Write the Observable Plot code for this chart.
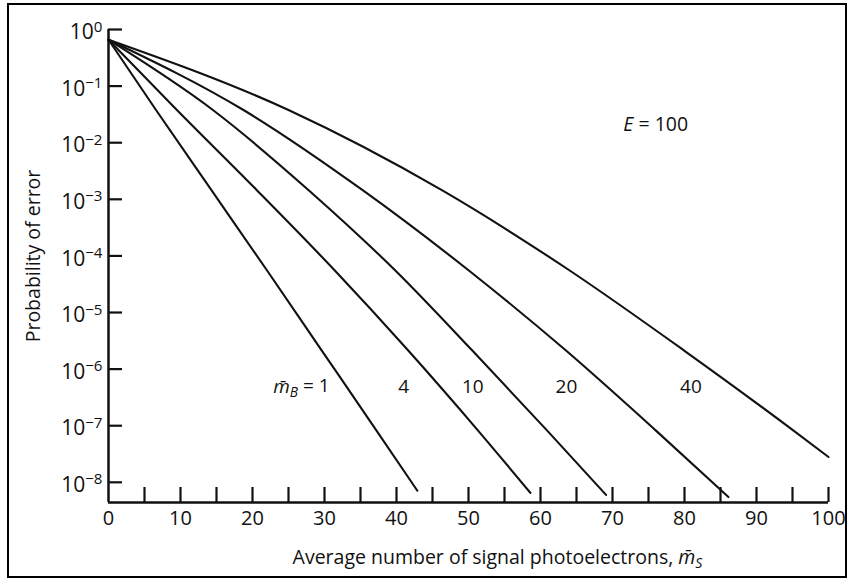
<!DOCTYPE html>
<html><head><meta charset="utf-8">
<script src="https://cdn.jsdelivr.net/npm/d3@7"></script>
<script src="https://cdn.jsdelivr.net/npm/@observablehq/plot@0.6"></script>
<style>
body{margin:0;background:#fff;}
#wrap{position:relative;width:848px;height:581px;overflow:hidden;}
#border{position:absolute;left:7px;top:3px;width:840px;height:575px;border:2px solid #000;box-sizing:border-box;pointer-events:none;}
</style></head><body>
<div id="wrap"><div id="chart"></div><div id="border"></div></div>
<script>
// Background photoelectron counts (series)
const seriesMB = [1, 4, 10, 20, 40];
// Average number of signal photoelectrons, per series
const mS_B1  = [0, 6.6, 14.3, 22.0, 29.6, 37.2, 42.9];
const mS_B4  = [0, 9.5, 20.6, 31.4, 41.6, 51.3, 58.6];
const mS_B10 = [0, 14.5, 27.8, 39.8, 50.5, 60.9, 69.1];
const mS_B20 = [0, 18.75, 35.3, 50.0, 63.5, 76.0, 86.1];
const mS_B40 = [0, 25.0, 46.3, 64.0, 79.9, 95.1, 100];
// Probability of error, per series
const pe_B1  = [0.66, 0.0378, 1.45e-3, 5.58e-5, 2.15e-6, 8.28e-8, 7.1e-9];
const pe_B4  = [0.66, 0.0378, 1.45e-3, 5.58e-5, 2.15e-6, 8.28e-8, 6.5e-9];
const pe_B10 = [0.66, 0.0378, 1.45e-3, 5.58e-5, 2.15e-6, 8.28e-8, 6.0e-9];
const pe_B20 = [0.66, 0.0378, 1.45e-3, 5.58e-5, 2.15e-6, 8.28e-8, 5.5e-9];
const pe_B40 = [0.66, 0.0378, 1.45e-3, 5.58e-5, 2.15e-6, 8.28e-8, 2.8e-8];

// Axis ticks
const yTicks = [1, 1e-1, 1e-2, 1e-3, 1e-4, 1e-5, 1e-6, 1e-7, 1e-8];
const xTickLabels = [0, 10, 20, 30, 40, 50, 60, 70, 80, 90, 100];
const xTickMarks = [5, 10, 15, 20, 25, 30, 35, 40, 45, 50, 55, 60, 65, 70, 75, 80, 85, 90, 95, 100];
const yDomain = [4.4e-9, 1];
const xDomain = [0, 100];

// Curve labels
const annoText = ["m̄_B = 1", "4", "10", "20", "40"];
const annoX = [26.8, 41.0, 50.6, 63.6, 80.9];
const annoY = [4.8e-7, 4.8e-7, 4.8e-7, 4.8e-7, 4.8e-7];
const eText = ["E = 100"];
const eX = [76];
const eY = [0.0205];

const xTitle = "Average number of signal photoelectrons, m̄_S";
const yTitle = "Probability of error";

const xsAll = [mS_B1, mS_B4, mS_B10, mS_B20, mS_B40];
const ysAll = [pe_B1, pe_B4, pe_B10, pe_B20, pe_B40];
const rows = [];
seriesMB.forEach((mb, i) => xsAll[i].forEach((x, j) => rows.push({mB: mb, mS: x, pe: ysAll[i][j]})));
const anno = annoText.map((t, i) => ({t, x: annoX[i], y: annoY[i]}));
const eAnno = eText.map((t, i) => ({t, x: eX[i], y: eY[i]}));

const W = 848, H = 581, mL = 108, mR = 20, mT = 29, mB = 79;
const fw = W - mL - mR, fh = H - mT - mB;

const chart = Plot.plot({
  width: W, height: H,
  marginLeft: mL, marginRight: mR, marginTop: mT, marginBottom: mB,
  x: {domain: xDomain},
  y: {type: "log", domain: yDomain},
  style: {fontFamily: "'Open Sans', sans-serif", color: "#111", background: "transparent"},
  marks: [
    Plot.ruleX([xDomain[0]], {strokeWidth: 2.5, stroke: "#111"}),
    Plot.ruleY([yDomain[0]], {strokeWidth: 2.5, stroke: "#111"}),
    Plot.tickY(yTicks, {y: d => d, insetRight: fw - 14, strokeWidth: 2.2, stroke: "#111"}),
    Plot.tickX(xTickMarks, {x: d => d, insetTop: fh - 15, strokeWidth: 2.2, stroke: "#111"}),
    Plot.axisY({ticks: yTicks, tickSize: 0, tickPadding: 6, dy: 3, fontSize: 21, label: null,
      tickFormat: d => "10^" + Math.round(Math.log10(d))}),
    Plot.axisX({ticks: xTickLabels, tickSize: 0, tickPadding: 8, fontSize: 20, label: null, tickFormat: d => String(d)}),
    Plot.line(rows, {x: "mS", y: "pe", z: "mB", curve: "monotone-x", strokeWidth: 2.1, stroke: "#111"}),
    Plot.text(anno, {x: "x", y: "y", text: "t", fontSize: 19}),
    Plot.text(eAnno, {x: "x", y: "y", text: "t", fontSize: 19.5}),
    Plot.text([xTitle], {text: d => d, frameAnchor: "bottom", dx: 29, dy: 61, fontSize: 19.5}),
    Plot.text([yTitle], {text: d => d, frameAnchor: "left", textAnchor: "middle", rotate: -90, dx: -75, dy: -10, fontSize: 19.5})
  ]
});
document.getElementById("chart").appendChild(chart);

const NS = "http://www.w3.org/2000/svg";
function ts(parent, txt, attrs) {
  const t = document.createElementNS(NS, "tspan");
  t.textContent = txt;
  for (const k in attrs) t.setAttribute(k, attrs[k]);
  parent.appendChild(t);
  return t;
}
chart.querySelectorAll("text").forEach(el => {
  const s = el.textContent;
  let m;
  if ((m = s.match(/^10\^(-?\d+)$/))) {
    el.textContent = "";
    ts(el, "10", {});
    ts(el, m[1].replace("-", "\u2212"), {dy: "-0.5em", "font-size": "72%"});
  } else if ((m = s.match(/^(.*?)m̄_([A-Z])(.*)$/))) {
    el.textContent = "";
    if (m[1]) ts(el, m[1], {});
    ts(el, "m̄", {"font-style": "italic"});
    ts(el, m[2], {"font-style": "italic", "font-size": "72%", dy: "0.3em"});
    if (m[3]) ts(el, m[3], {dy: "-0.3em"});
  } else if ((m = s.match(/^E( = .*)$/))) {
    el.textContent = "";
    ts(el, "E", {"font-style": "italic"});
    ts(el, m[1], {});
  }
});
</script>
</body></html>
